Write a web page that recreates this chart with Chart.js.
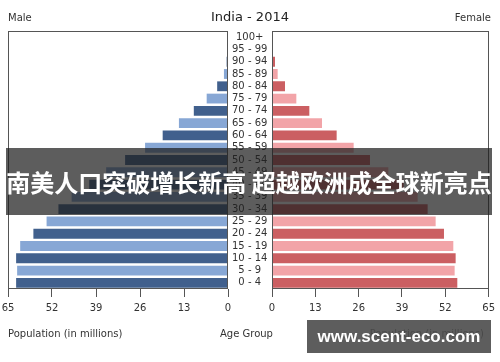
<!DOCTYPE html>
<html>
<head>
<meta charset="utf-8">
<script src="https://cdn.jsdelivr.net/npm/chart.js@4.4.1/dist/chart.umd.min.js"></script>
<style>
	body { margin: 0; background: #fff; }
	#wrap { position: relative; width: 500px; height: 362px; overflow: hidden; font-family: "DejaVu Sans", sans-serif; }
	#wrap canvas { position: absolute; left: 0; top: 0; }
	.lbl { position: absolute; font-size: 10px; line-height: 12px; color: #333; white-space: nowrap; }
	#title { position: absolute; left: 0; width: 500px; top: 9px; text-align: center; font-size: 13px; line-height: 16px; color: #222; }
	#banner {
		position: absolute; left: 6px; top: 148px; width: 486px; height: 67px;
		background: rgba(30, 30, 30, 0.72); color: #fff;
		font-family: "Noto Sans CJK SC", sans-serif; font-weight: bold; font-size: 24px;
		display: flex; align-items: center; justify-content: center; white-space: nowrap;
	}
	#mark {
		position: absolute; left: 307px; top: 320px; width: 184px; height: 33px;
		background: rgba(75, 75, 75, 0.9); color: #fff;
		font-family: "Liberation Sans", sans-serif; font-weight: bold; font-size: 17px;
		display: flex; align-items: center; justify-content: center; white-space: nowrap;
	}
</style>
</head>
<body>
<div id="wrap">
	<canvas id="male" width="500" height="362"></canvas>
	<canvas id="female" width="500" height="362"></canvas>
	<div id="title">India - 2014</div>
	<div class="lbl" style="left:8px; top:328px;">Population (in millions)</div>
	<div class="lbl" style="left:220px; top:328px;">Age Group</div>
	<div class="lbl" style="right:16px; top:328px;">Population (in millions)</div>
	<div id="banner">南美人口突破增长新高 超越欧洲成全球新亮点</div>
	<div id="mark">www.scent-eco.com</div>
</div>
<script>
// data (millions), youngest group first
const ageGroups = ['0 - 4', '5 - 9', '10 - 14', '15 - 19', '20 - 24', '25 - 29', '30 - 34',
	'35 - 39', '40 - 44', '45 - 49', '50 - 54', '55 - 59', '60 - 64', '65 - 69', '70 - 74',
	'75 - 79', '80 - 84', '85 - 89', '90 - 94', '95 - 99', '100+'];
const maleValues = [62.6, 62.3, 62.6, 61.4, 57.5, 53.6, 50.1, 46.2, 41.0, 36.0, 30.4,
	24.5, 19.3, 14.5, 10.1, 6.3, 3.2, 1.2, 0.4, 0.1, 0.05];
const femaleValues = [55.6, 54.8, 55.1, 54.4, 51.6, 49.1, 46.7, 43.7, 39.5, 34.9, 29.4,
	24.5, 19.4, 15.0, 11.2, 7.3, 3.9, 1.7, 0.9, 0.2, 0.3];
const xTicks = [0, 13, 26, 39, 52, 65];

const tickFont = { family: 'DejaVu Sans', size: 10 };
const frameColor = '#555';

// box around each plot area
const framePlugin = {
	id: 'frame',
	afterDatasetsDraw: function(chart) {
		let a = chart.chartArea;
		let ctx = chart.ctx;
		ctx.save();
		ctx.strokeStyle = frameColor;
		ctx.lineWidth = 1;
		ctx.strokeRect(Math.round(a.left) + 0.5, Math.round(a.top) + 0.5,
			Math.round(a.right - a.left) - 1, Math.round(a.bottom - a.top) - 1);
		ctx.restore();
	}
};

function xScale(reverse) {
	return {
		type: 'linear',
		min: 0,
		max: 65,
		reverse: reverse,
		afterBuildTicks: function(scale) {
			scale.ticks = xTicks.map(v => ({ value: v }));
		},
		afterFit: function(scale) {
			scale.height = 73;
		},
		border: { display: false },
		grid: {
			display: true,
			drawOnChartArea: false,
			drawTicks: true,
			tickLength: 8,
			color: frameColor
		},
		ticks: { font: tickFont, color: '#333', padding: 5, maxRotation: 0 }
	};
}

function makeChart(id, values, dark, light, left) {
	return new Chart(document.getElementById(id), {
		type: 'bar',
		data: {
			labels: ageGroups,
			datasets: [{
				data: values,
				backgroundColor: ctx => (ctx.dataIndex % 2 === 0 ? dark : light),
				barPercentage: 0.8,
				categoryPercentage: 1.0
			}]
		},
		options: {
			indexAxis: 'y',
			responsive: false,
			animation: false,
			layout: {
				padding: left ? { left: 8, right: 228, top: 0, bottom: 0 } : { left: 272, right: 9, top: 0, bottom: 0 }
			},
			scales: {
				x: xScale(left),
				y: {
					type: 'category',
					reverse: true,
					position: left ? 'right' : 'left',
					display: left,
					afterFit: function(scale) {
						if (left) {
							scale.width = 44;
						}
					},
					border: { display: false },
					grid: { display: false, drawTicks: false },
					ticks: { font: tickFont, color: '#333', padding: 4, crossAlign: 'center', autoSkip: false }
				}
			},
			plugins: {
				legend: { display: false },
				tooltip: { enabled: false },
				title: {
					display: true,
					text: left ? 'Male' : 'Female',
					align: left ? 'start' : 'end',
					color: '#333',
					font: { family: 'DejaVu Sans', size: 10, weight: 'normal' },
					padding: { top: 12, bottom: 7 }
				}
			}
		},
		plugins: [framePlugin]
	});
}

makeChart('male', maleValues, '#41608d', '#87a7d5', true);
makeChart('female', femaleValues, '#cb5f62', '#f2a4a8', false);
</script>
</body>
</html>
